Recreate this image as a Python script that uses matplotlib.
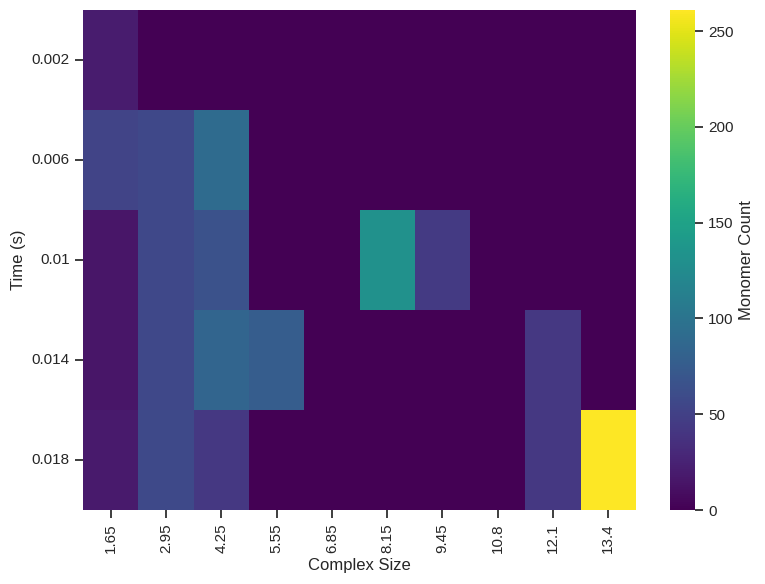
import numpy as np
import pandas as pd
import matplotlib
matplotlib.use("Agg")
import matplotlib.pyplot as plt
import seaborn as sns

sizes = ["1.65", "2.95", "4.25", "5.55", "6.85", "8.15", "9.45", "10.8", "12.1", "13.4"]
times = ["0.002", "0.006", "0.01", "0.014", "0.018"]

# monomer counts, one list per time step
t_0002 = [20, 0, 0, 0, 0, 0, 0, 0, 0, 0]
t_0006 = [52, 57, 90, 0, 0, 0, 0, 0, 0, 0]
t_0010 = [15, 57, 66, 0, 0, 131, 44, 0, 0, 0]
t_0014 = [15, 57, 84, 76, 0, 0, 0, 0, 42, 0]
t_0018 = [18, 58, 42, 0, 0, 0, 0, 0, 42, 261]

sns.set_theme(style="ticks")
plt.rcParams['font.family'] = ['Liberation Sans', 'DejaVu Sans']

df = pd.DataFrame([t_0002, t_0006, t_0010, t_0014, t_0018], index=times, columns=sizes)

W, H = 765, 584
fig = plt.figure(figsize=(W / 100, H / 100), dpi=100)
ax = fig.add_axes([83 / W, (H - 510) / H, 553 / W, 500 / H])
cax = fig.add_axes([670 / W, (H - 510) / H, 25 / W, 500 / H])
sns.heatmap(df, cmap="viridis", ax=ax, cbar_ax=cax, cbar_kws={"label": "Monomer Count"})
ax.set_xlabel("Complex Size", fontsize=12)
ax.set_ylabel("Time (s)", fontsize=12)
ax.tick_params(labelsize=11)
plt.setp(ax.get_xticklabels(), rotation=90)
plt.setp(ax.get_yticklabels(), rotation=0)
cax.tick_params(labelsize=11)
cax.set_ylabel("Monomer Count", fontsize=12)
plt.savefig("out.png", dpi=100)
